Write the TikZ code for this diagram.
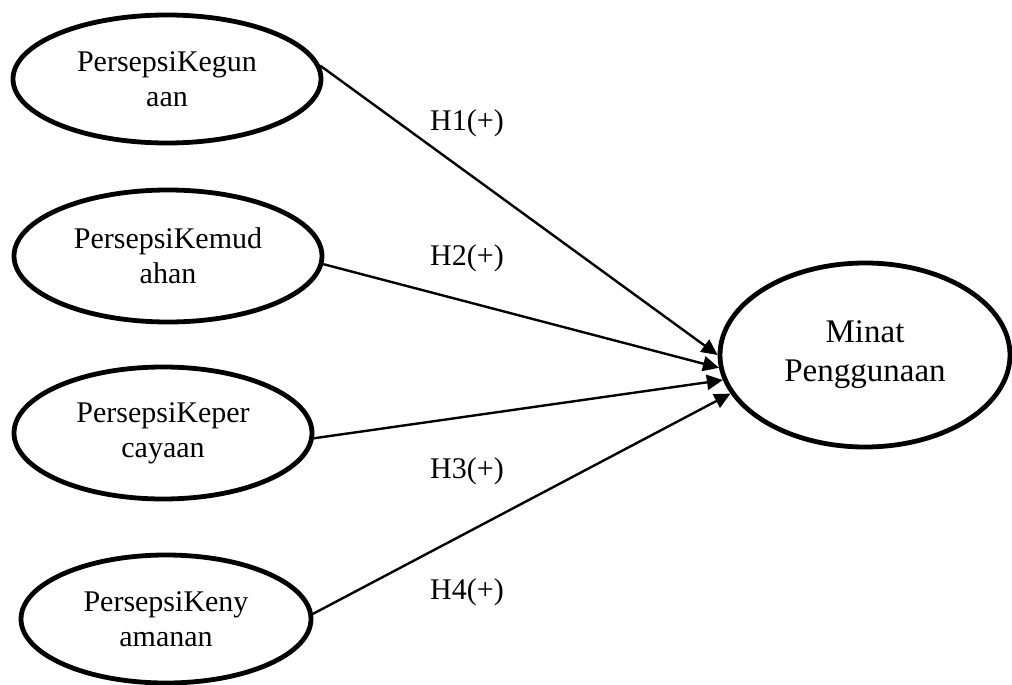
\documentclass[tikz,border=0pt]{standalone}
\usepackage{fontspec}
\setmainfont{Liberation Serif}
\usetikzlibrary{shapes.geometric,arrows.meta}
\begin{document}
\begin{tikzpicture}[x=1pt,y=-1pt,
  latent/.style={ellipse,draw,line width=4.8pt,inner sep=0pt,align=center,
    font=\fontsize{30}{35}\selectfont},
  path/.style={line width=2.4pt,-{Triangle[length=16pt,width=15pt]}},
  hyp/.style={font=\fontsize{30}{35}\selectfont,inner sep=0pt}]
\useasboundingbox (0,0) rectangle (1012,685);
\node[latent,minimum width=308pt,minimum height=128pt] (e1) at (167,79) {PersepsiKegun\\aan};
\node[latent,minimum width=308pt,minimum height=132pt] (e2) at (168,256) {PersepsiKemud\\ahan};
\node[latent,minimum width=298pt,minimum height=132pt] (e3) at (163,433) {PersepsiKeper\\cayaan};
\node[latent,minimum width=290pt,minimum height=128pt] (e4) at (166,619) {PersepsiKeny\\amanan};
\node[latent,minimum width=290pt,minimum height=184pt,font=\fontsize{33}{39}\selectfont] (m) at (865,355) {Minat\\Penggunaan};
\draw[path] (e1.5) -- (m.180);
\draw[path] (e2.-3) -- (m.185);
\draw[path] (e3.-2) -- (m.190);
\draw[path] (e4.2) -- (m.196);
\node[hyp] (h1) at (467,123) {H1(+)};
\node[hyp] (h2) at (467,258) {H2(+)};
\node[hyp] (h3) at (467,471) {H3(+)};
\node[hyp] (h4) at (467,592) {H4(+)};
\end{tikzpicture}
\end{document}
